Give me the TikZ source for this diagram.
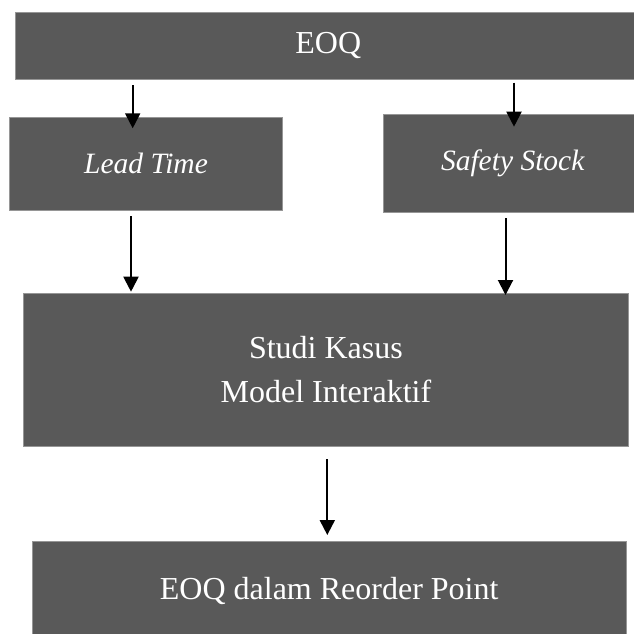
\documentclass[tikz,border=0pt]{standalone}
\usepackage{fontspec}
\setmainfont{Liberation Serif}
\usetikzlibrary{arrows.meta}
\definecolor{boxgray}{RGB}{89,89,89}
\definecolor{edgegray}{RGB}{150,150,150}
\begin{document}
\begin{tikzpicture}[x=1pt,y=-1pt,
  box/.style={fill=boxgray, draw=edgegray, line width=0.6pt, text=white,
    inner sep=0pt, font=\fontsize{32}{44}\selectfont, align=center},
  itbox/.style={box, font=\fontsize{29.5}{44}\selectfont\itshape},
  arr/.style={line width=2pt, -{Triangle[width=15pt,length=15pt]}}]
\useasboundingbox (0,0) rectangle (633,634);
\node[box, minimum width=625.3pt, minimum height=66.6pt] (eoq) at (328.3,46) {EOQ};
\node[itbox, minimum width=273.3pt, minimum height=92.3pt] (lead) at (146,163.8) {Lead Time};
\node[itbox, minimum width=258.5pt, minimum height=98.4pt] (safety) at (512.7,163.5) {Safety Stock};
\node[box, minimum width=605.7pt, minimum height=153.3pt] (studi) at (325.9,369.7) {Studi Kasus\\Model Interaktif};
\node[box, minimum width=593.7pt, minimum height=98.7pt] (rop) at (329.2,590.6) {EOQ dalam Reorder Point};
\coordinate (a1s) at (132.7,85);   \coordinate (a1e) at (132.7,128.3);
\coordinate (a2s) at (514,82.7);   \coordinate (a2e) at (514,126.7);
\coordinate (a3s) at (131,216);    \coordinate (a3e) at (131,291.7);
\coordinate (a4s) at (505.5,218.3); \coordinate (a4e) at (505.5,295);
\coordinate (a5s) at (327.3,459);  \coordinate (a5e) at (327.3,535);
\draw[arr] (a1s) -- (a1e);
\draw[arr] (a2s) -- (a2e);
\draw[arr] (a3s) -- (a3e);
\draw[arr] (a4s) -- (a4e);
\draw[arr] (a5s) -- (a5e);
\end{tikzpicture}
\end{document}
